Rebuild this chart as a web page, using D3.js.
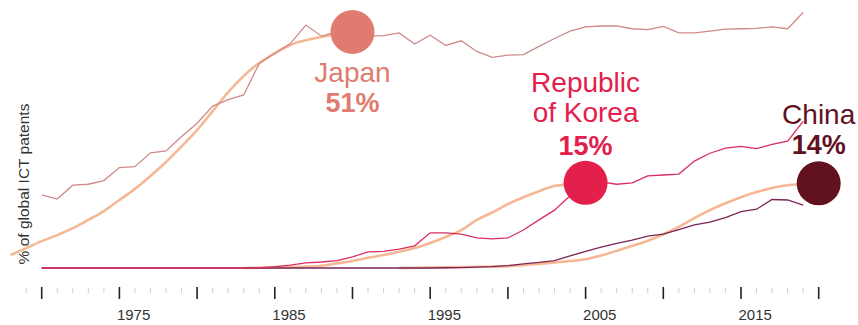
<!DOCTYPE html>
<html>
<head>
<meta charset="utf-8">
<script src="https://cdn.jsdelivr.net/npm/d3@7"></script>
<style>
  body { margin: 0; background: #fff; }
  text { font-family: "Liberation Sans", Arial, sans-serif; }
</style>
</head>
<body>
<script>
var svgWidth = 858,
    svgHeight = 325;

// yearly share of global ICT patents (%), 1970-2019
var years = d3.range(1970, 2020);
var japan = [15.8, 14.9, 17.9, 18.1, 18.9, 21.7, 21.9, 24.9, 25.3, 28.4,
             31.3, 35.0, 36.4, 37.4, 44.2, 46.4, 48.5, 52.5, 50.1, 51.0,
             51.0, 50.1, 50.2, 50.8, 48.4, 50.3, 48.1, 49.1, 46.8, 45.5,
             46.0, 46.1, 47.9, 49.6, 51.2, 52.1, 52.3, 52.3, 51.7, 51.5,
             52.2, 50.8, 50.8, 51.2, 51.6, 51.7, 51.8, 52.1, 51.7, 55.2];
var korea = [0, 0, 0, 0, 0, 0, 0, 0, 0, 0,
             0, 0, 0, 0, 0.1, 0.3, 0.6, 1.1, 1.3, 1.6,
             2.4, 3.5, 3.6, 4.1, 4.8, 7.6, 7.6, 7.3, 6.5, 6.3,
             6.5, 8.2, 10.4, 12.5, 15.6, 18.4, 18.6, 18.1, 18.4, 19.9,
             20.1, 20.3, 23.1, 24.8, 25.9, 26.3, 25.8, 26.7, 27.4, 31.7];
var china = [0, 0, 0, 0, 0, 0, 0, 0, 0, 0,
             0, 0, 0, 0, 0, 0, 0, 0, 0, 0,
             0, 0, 0, 0, 0, 0, 0.05, 0.1, 0.2, 0.3,
             0.5, 0.9, 1.2, 1.6, 2.6, 3.6, 4.5, 5.3, 6.0, 6.9,
             7.3, 8.3, 9.3, 9.9, 10.9, 12.2, 12.7, 14.8, 14.7, 13.6];

// fitted catch-up curves
var japanFitYears = d3.range(1968, 1991);
var japanFit = [2.8, 4.3, 5.8, 7.1, 8.6, 10.4, 12.3, 14.7, 17.1, 19.9, 22.9, 26.3,
                29.8, 33.9, 38.0, 41.5, 44.3, 46.4, 48.2, 49.2, 49.9, 50.5, 51.0];
var koreaFitYears = d3.range(1983, 2006);
var koreaFit = [0, 0.05, 0.1, 0.2, 0.3, 0.5, 1.0, 1.5, 2.2, 2.8, 3.5, 4.3,
                5.4, 6.7, 8.2, 10.4, 12.0, 13.8, 15.3, 16.6, 17.7, 18.1, 18.4];
var chinaFitYears = d3.range(1993, 2021);
var chinaFit = [0, 0.05, 0.1, 0.15, 0.2, 0.25, 0.3, 0.4, 0.6, 0.9, 1.2, 1.5, 1.9, 2.7,
                3.7, 4.8, 5.9, 7.3, 8.9, 10.8, 12.5, 14.0, 15.3, 16.4, 17.3, 17.9, 18.1, 18.3];

// end points of the fitted curves and their labels
var dotNames = ["Japan", "Republic of Korea", "China"];
var dotYears = [1990, 2005, 2020];
var dotValues = [51, 18.4, 18.3];
var dotShares = ["51%", "15%", "14%"];

var tickYears = d3.range(1969, 2021);
var labelYears = [1975, 1985, 1995, 2005, 2015];

var colors = { japan: "#e07c6f", korea: "#e3204c", china: "#62121f",
               japanLine: "#cf8a88", koreaLine: "#d92e5e", chinaLine: "#7b2556",
               fit: "#f6b894" };

var x = d3.scaleLinear().domain([1970, 2020]).range([41.7, 818.7]);
var y = d3.scaleLinear().domain([0, 51]).range([268, 32]);

var svg = d3.select("body")
                .append("svg")
                    .attr("width", svgWidth)
                    .attr("height", svgHeight);

// x axis: minor tick every year, major every 5
var axis = svg.append("g").attr("transform", "translate(0,287)");
axis.selectAll("line")
    .data(tickYears)
        .enter()
            .append("line")
                .attr("x1", function(d) { return x(d); })
                .attr("x2", function(d) { return x(d); })
                .attr("y1", function(d) { return d % 5 === 0 ? 0 : 1; })
                .attr("y2", function(d) { return d % 5 === 0 ? 12 : 6; })
                .style("stroke", function(d) { return d % 5 === 0 ? "#222" : "#cfcfcf"; })
                .style("stroke-width", function(d) { return d % 5 === 0 ? 1.6 : 1; });

axis.selectAll("text")
    .data(labelYears)
        .enter()
            .append("text")
                .attr("x", function(d) { return x(d) - 2.5; })
                .attr("y", 33)
                .style("font-size", "15px")
                .style("fill", "#333")
                .text(function(d) { return d; });

svg.append("text")
    .attr("transform", "translate(29,184) rotate(-90)")
    .attr("text-anchor", "middle")
    .style("font-size", "15.5px")
    .style("fill", "#333")
    .text("% of global ICT patents");

var line = d3.line()
    .x(function(d) { return x(d[0]); })
    .y(function(d) { return y(d[1]); });

var smooth = d3.line()
    .x(function(d) { return x(d[0]); })
    .y(function(d) { return y(d[1]); })
    .curve(d3.curveMonotoneX);

function pairs(xs, vs) { return xs.map(function(d, i) { return [d, vs[i]]; }); }

// fitted curves underneath
[[japanFitYears, japanFit], [koreaFitYears, koreaFit], [chinaFitYears, chinaFit]].forEach(function(f) {
    svg.append("path")
        .attr("d", smooth(pairs(f[0], f[1])))
        .style("fill", "none")
        .style("stroke", colors.fit)
        .style("stroke-width", 2.6);
});

svg.append("path").attr("d", line(pairs(years, china)))
    .style("fill", "none").style("stroke", colors.chinaLine).style("stroke-width", 1.3);
svg.append("path").attr("d", line(pairs(years, korea)))
    .style("fill", "none").style("stroke", colors.koreaLine).style("stroke-width", 1.3);
svg.append("path").attr("d", line(pairs(years, japan)))
    .style("fill", "none").style("stroke", colors.japanLine).style("stroke-width", 1.3);

var dotColors = [colors.japan, colors.korea, colors.china];
svg.selectAll("circle")
    .data(dotYears)
        .enter()
            .append("circle")
                .attr("cx", function(d) { return x(d); })
                .attr("cy", function(d, i) { return y(dotValues[i]); })
                .attr("r", 22)
                .style("fill", function(d, i) { return dotColors[i]; });

// labels: lines of text with baseline offsets from the dot centre
var labelLines = [
    [[dotNames[0], 50, false], [dotShares[0], 79.5, true]],
    [["Republic", -91, false], ["of Korea", -61, false], [dotShares[1], -28, true]],
    [[dotNames[2], -59, false], [dotShares[2], -29, true]]
];

labelLines.forEach(function(lines, i) {
    var cx = x(dotYears[i]), cy = y(dotValues[i]);
    lines.forEach(function(l) {
        svg.append("text")
            .attr("x", cx)
            .attr("y", cy + l[1])
            .attr("text-anchor", "middle")
            .style("font-size", l[2] ? "27px" : "28px")
            .style("font-weight", l[2] ? "bold" : "normal")
            .style("fill", dotColors[i])
            .text(l[0]);
    });
});
</script>
</body>
</html>
